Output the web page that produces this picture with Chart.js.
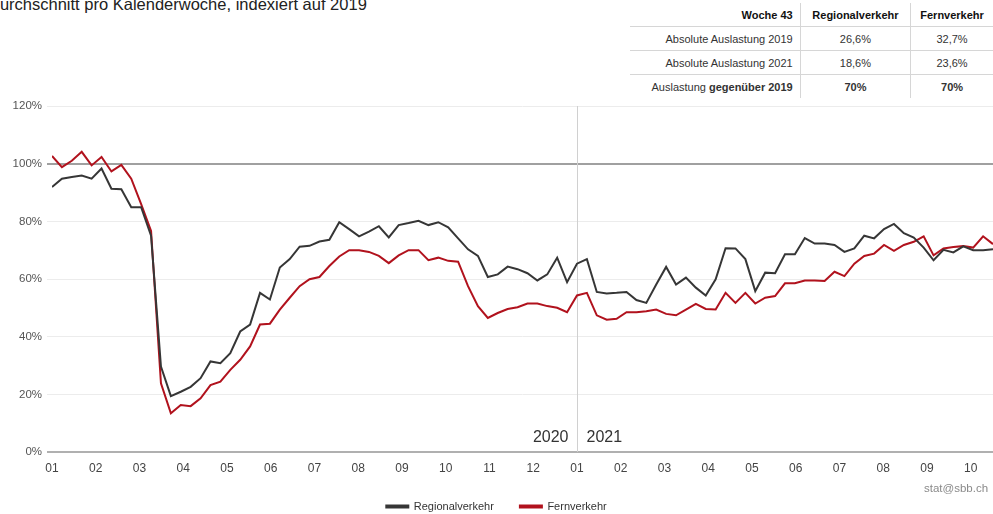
<!DOCTYPE html>
<html>
<head>
<meta charset="utf-8">
<script src="https://cdn.jsdelivr.net/npm/chart.js@4"></script>
<style>
  body { margin: 0; width: 993px; height: 514px; overflow: hidden; background: #fff;
         font-family: "Liberation Sans", Arial, sans-serif; position: relative; }
  #title { position: absolute; left: -12px; top: -5px; font-size: 16.5px; color: #222; white-space: nowrap; }
  #info { position: absolute; left: 630px; top: 3px; border-collapse: collapse; table-layout: fixed;
          font-size: 11px; color: #333; }
  #info td { height: 23px; padding: 0 7px; border-bottom: 1px solid #d6d6d6; white-space: nowrap; overflow: visible; }
  #info tr:last-child td { border-bottom: none; }
  #info td:first-child { width: 163px; text-align: right; }
  #info td:nth-child(2) { width: 100px; text-align: center; border-left: 1px solid #d6d6d6; border-right: 1px solid #d6d6d6; }
  #info td:nth-child(3) { width: 70px; text-align: center; }
  #info tr:first-child td { font-weight: bold; color: #111; }
  #credit { position: absolute; left: 924px; top: 482px; font-size: 11.5px; color: #8a8a8a; }
  #box { position: absolute; left: 0; top: 0; width: 993px; height: 514px; }
</style>
</head>
<body>
<div id="title">Durchschnitt pro Kalenderwoche, indexiert auf 2019</div>
<table id="info">
  <tr><td>Woche 43</td><td>Regionalverkehr</td><td>Fernverkehr</td></tr>
  <tr><td>Absolute Auslastung 2019</td><td>26,6%</td><td>32,7%</td></tr>
  <tr><td>Absolute Auslastung 2021</td><td>18,6%</td><td>23,6%</td></tr>
  <tr><td>Auslastung <b>gegenüber 2019</b></td><td><b>70%</b></td><td><b>70%</b></td></tr>
</table>
<div id="box"><canvas id="chart"></canvas></div>
<div id="credit">stat@sbb.ch</div>
<script>
// weekly values, index 2019 = 100
const regional2020 = [91.9, 94.8, 95.4, 95.9, 94.8, 98.3, 91.3, 91.1, 84.9, 84.9,
  75.0, 29.6, 19.4, 20.9, 22.6, 25.6, 31.4, 30.8, 34.3, 41.8,
  44.2, 55.2, 52.9, 64.0, 66.9, 71.2, 71.5, 73.0, 73.6, 79.7,
  77.3, 74.8, 76.4, 78.3, 74.4, 78.7, 79.4, 80.2, 78.7, 79.7,
  77.9, 74.1, 70.3, 68.0, 60.7, 61.6, 64.3, 63.4, 62.0, 59.5,
  61.6, 67.4, 58.9];
const regional2021 = [65.3, 66.9, 55.5, 55.0, 55.2, 55.5, 52.7, 51.7, 58.1, 64.2,
  58.1, 60.5, 57.0, 54.3, 59.9, 70.7, 70.6, 66.9, 55.8, 62.2,
  62.0, 68.6, 68.6, 74.2, 72.3, 72.3, 71.8, 69.4, 70.6, 75.0,
  74.1, 77.3, 79.1, 75.9, 74.4, 70.9, 66.5, 70.1, 69.2, 71.3,
  70.0, 70.0, 70.3];
const fern2020 = [102.7, 98.8, 101.0, 104.1, 99.4, 102.3, 97.3, 99.6, 94.8, 86.0,
  76.7, 23.8, 13.4, 16.3, 15.9, 18.6, 23.2, 24.4, 28.5, 32.0,
  36.6, 44.2, 44.5, 49.4, 53.5, 57.5, 59.9, 60.7, 64.5, 67.8,
  70.0, 70.0, 69.4, 68.0, 65.5, 68.2, 70.0, 70.0, 66.5, 67.4,
  66.3, 66.0, 57.5, 50.6, 46.5, 48.2, 49.6, 50.2, 51.5, 51.5,
  50.6, 50.0, 48.5];
const fern2021 = [54.3, 55.2, 47.4, 45.9, 46.2, 48.5, 48.5, 48.8, 49.4, 47.9,
  47.4, 49.4, 51.4, 49.6, 49.4, 55.2, 51.7, 55.2, 51.5, 53.5,
  54.1, 58.5, 58.5, 59.5, 59.5, 59.3, 62.5, 61.0, 65.3, 68.0,
  68.8, 71.8, 69.8, 71.8, 72.9, 74.8, 68.2, 70.6, 71.1, 71.4,
  70.9, 74.8, 72.1];
const monthLabels = ['01', '02', '03', '04', '05', '06', '07', '08', '09', '10', '11', '12',
  '01', '02', '03', '04', '05', '06', '07', '08', '09', '10'];
const yearLabels = ['2020', '2021'];
const yTicks = [0, 20, 40, 60, 80, 100, 120];

const weeks2020 = regional2020.length;
const toPoints = (a, b) => a.concat(b).map((v, i) => ({ x: i, y: v }));
const FONT = '"Liberation Sans", Arial, sans-serif';

const yearDivider = {
  id: 'yearDivider',
  beforeDatasetsDraw(chart) {
    const { ctx, chartArea, scales } = chart;
    const x = Math.round(scales.x.getPixelForValue(weeks2020)) + 0.5;
    ctx.save();
    ctx.strokeStyle = '#d0d0d0';
    ctx.lineWidth = 1;
    ctx.beginPath();
    ctx.moveTo(x, chartArea.top);
    ctx.lineTo(x, chartArea.bottom);
    ctx.stroke();
    ctx.fillStyle = '#333';
    ctx.font = '16px ' + FONT;
    ctx.textBaseline = 'middle';
    const y = chartArea.bottom - 14;
    ctx.textAlign = 'right';
    ctx.fillText(yearLabels[0], x - 9, y);
    ctx.textAlign = 'left';
    ctx.fillText(yearLabels[1], x + 9, y);
    ctx.restore();
  }
};

new Chart(document.getElementById('chart'), {
  type: 'line',
  data: {
    datasets: [{
      label: 'Regionalverkehr',
      data: toPoints(regional2020, regional2021),
      borderColor: '#363636',
      backgroundColor: '#363636',
      borderWidth: 2,
      pointRadius: 0,
      tension: 0
    }, {
      label: 'Fernverkehr',
      data: toPoints(fern2020, fern2021),
      borderColor: '#b1121d',
      backgroundColor: '#b1121d',
      borderWidth: 2,
      pointRadius: 0,
      tension: 0
    }]
  },
  options: {
    responsive: true,
    maintainAspectRatio: false,
    animation: false,
    layout: { padding: { top: 106, right: 0, left: 0, bottom: -8 } },
    plugins: {
      legend: {
        position: 'bottom',
        labels: {
          boxWidth: 22,
          boxHeight: 2,
          padding: 26,
          color: '#333',
          font: { size: 11, family: FONT }
        }
      },
      tooltip: { enabled: false }
    },
    scales: {
      x: {
        type: 'linear',
        min: 0,
        max: regional2020.length + regional2021.length - 1,
        border: { display: false },
        grid: { display: false, drawTicks: false },
        afterBuildTicks: s => { s.ticks = monthLabels.map((_, i) => ({ value: i * weeks2020 / 12 })); },
        afterFit: s => { s.height = 23; },
        ticks: {
          autoSkip: false,
          maxRotation: 0,
          padding: 9,
          color: '#444',
          font: { size: 12, family: FONT },
          callback: (v, i) => monthLabels[i]
        }
      },
      y: {
        min: 0,
        max: 120,
        border: { display: false },
        afterFit: s => { s.width = 52; },
        afterBuildTicks: s => { s.ticks = yTicks.map(v => ({ value: v })); },
        grid: {
          tickLength: 5,
          color: c => c.tick.value === 100 ? '#a0a0a0' : (c.tick.value === 0 ? '#b0b0b0' : '#ececec'),
          lineWidth: c => (c.tick.value === 100 || c.tick.value === 0) ? 2 : 1
        },
        ticks: {
          padding: 5,
          color: '#555',
          font: { size: 11.5, family: FONT },
          callback: v => v + '%'
        }
      }
    }
  },
  plugins: [yearDivider]
});
</script>
</body>
</html>
